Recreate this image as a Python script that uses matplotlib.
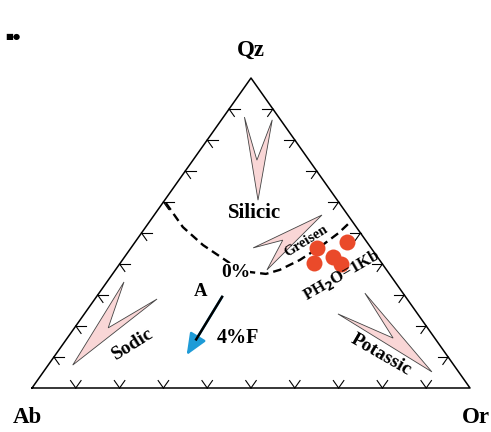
import numpy as np
import matplotlib.pyplot as plt
from matplotlib.patches import Polygon, FancyArrowPatch

plt.rcParams['font.family'] = ['Liberation Serif', 'DejaVu Serif']
plt.rcParams['font.weight'] = 'bold'

# compositions are given as (Qz, Or) in percent, Ab is the rest
samples_qz = [45.2, 47.1, 40.3, 42.3, 40.0]
samples_or = [42.5, 48.4, 44.2, 47.6, 50.5]

# 0% F minimum-melt curve at PH2O = 1 kb
curve_qz = [59.7, 51.9, 46.1, 40.3, 37.4, 36.8, 38.1, 41.3, 45.5, 50.0, 54.0]
curve_or = [0.7, 8.5, 16.0, 25.0, 31.1, 35.0, 37.5, 40.5, 43.0, 45.0, 46.0]

# fluorine shift of the minimum (A -> 4%F)
shift_qz = [29.4, 10.6]
shift_or = [28.7, 30.0]

# alteration trend darts: tip, tail, notch, tail
darts = {
    'Silicic':  ([60.6, 87.4, 73.5, 86.5], [21.3, 4.8, 14.6, 11.6]),
    'Sodic':    ([7.4, 34.2, 19.4, 28.7], [5.6, 3.9, 7.7, 14.2]),
    'Potassic': ([5.2, 30.6, 16.1, 23.9], [88.7, 60.7, 74.4, 57.9]),
    'Greisen':  ([55.8, 45.2, 47.7, 38.1], [38.3, 27.9, 33.4, 34.6]),
}


def tern(qz, orth):
    qz = np.asarray(qz, float) / 100.0
    orth = np.asarray(orth, float) / 100.0
    return orth + qz / 2.0, qz


fig = plt.figure(figsize=(4.91, 4.32), dpi=100)
ax = fig.add_axes([0, 0, 1, 1])
ax.set_xlim(-32 / 438, 459 / 438)
ax.set_ylim(-44 / 310, 388 / 310)
ax.axis('off')

# triangle frame
ax.plot([0, 1, 0.5, 0], [0, 0, 1, 0], color='k', lw=1.1, zorder=3)

# edge ticks, arms parallel to the other two sides
t = 0.024
for k in range(1, 10):
    f = k / 10.0
    for (px, py), arms in [((f, 0), [(0.5, 1), (-0.5, 1)]),
                           ((f / 2, f), [(1, 0), (0.5, -1)]),
                           ((1 - f / 2, f), [(-1, 0), (-0.5, -1)])]:
        for dx, dy in arms:
            ax.plot([px, px + t * dx], [py, py + t * dy], color='k', lw=0.8, zorder=3)

# alteration darts
for name, (dq, do) in darts.items():
    x, y = tern(dq, do)
    ax.add_patch(Polygon(np.column_stack([x, y]), closed=True,
                         facecolor='#f9d6d6', edgecolor='#444444', lw=0.6, zorder=2))

# minimum-melt curve
cx, cy = tern(curve_qz, curve_or)
ax.plot(cx, cy, color='k', lw=1.7, ls=(0, (3.6, 2.1)), zorder=3)

# samples
sx, sy = tern(samples_qz, samples_or)
ax.plot(sx, sy, 'o', ms=11.5, color='#ea4a2a', mec='none', zorder=4)

# F arrow: black shaft, blue head
ax_, ay_ = tern(shift_qz, shift_or)
base = (ax_[1] + 0.27 * (ax_[0] - ax_[1]), ay_[1] + 0.27 * (ay_[0] - ay_[1]))
ax.add_patch(FancyArrowPatch((ax_[0], ay_[0]), (ax_[1], ay_[1]),
                             arrowstyle='-|>,head_length=13,head_width=5.5',
                             mutation_scale=1, color='#1e9bd7', lw=1.8,
                             shrinkA=0, shrinkB=0, zorder=4))
ax.plot([ax_[0], base[0]], [ay_[0], base[1]], color='k', lw=1.8, zorder=5)

# vertex labels
for lab, xy, off in [('Qz', (0.5, 1), (0, 20)), ('Ab', (0, 0), (-3, -21)), ('Or', (1, 0), (4, -21))]:
    ax.annotate(lab, xy=xy, xytext=off, textcoords='offset points',
                ha='center', va='center', fontsize=16.5)

# field and curve labels
labels = [
    ('Silicic', 56.5, 22.6, 0, 15),
    ('Greisen', 47.4, 38.9, 32, 10.5),
    ('Sodic', 14.2, 16.0, 32, 14),
    ('Potassic', 10.6, 74.4, -30, 14),
    ('A', 31.0, 22.9, 0, 13.5),
    ('4%F', 16.1, 39.0, 0, 14.5),
    ('PH$_\\mathbf{2}$O=1Kb', 36.5, 52.5, 30, 12),
]
for txt, q, o, rot, fs in labels:
    x, y = tern(q, o)
    ax.text(x, y, txt, rotation=rot, ha='center', va='center', fontsize=fs,
            rotation_mode='anchor', zorder=6)

x0, y0 = tern(37.3, 27.8)
ax.text(x0, y0, '0%', ha='center', va='center', fontsize=14, zorder=6,
        bbox=dict(facecolor='white', edgecolor='none', pad=0.3))

fig.text(13 / 491, 1 - 36 / 432, '■●', fontsize=6, ha='center', va='center',
         family='DejaVu Sans')

fig.savefig('out.png', dpi=100)
